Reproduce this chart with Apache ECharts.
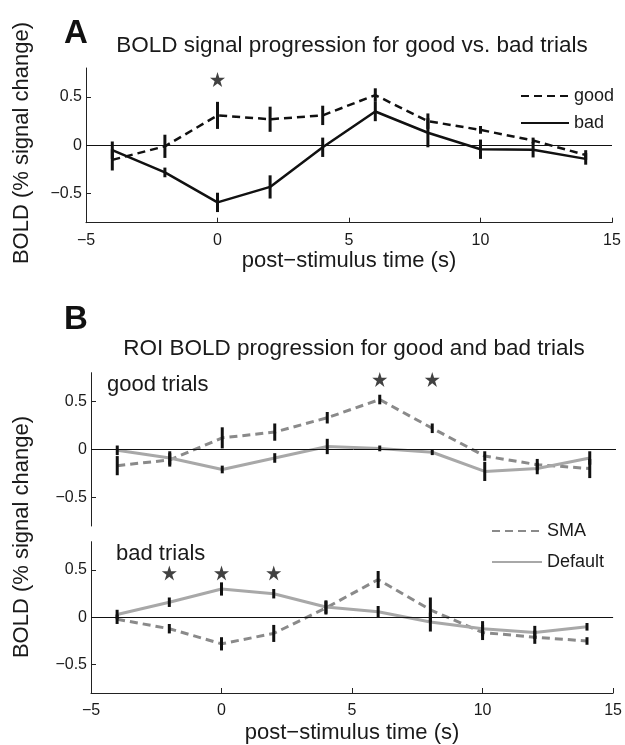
<!DOCTYPE html>
<html>
<head>
<meta charset="utf-8">
<script src="https://cdn.jsdelivr.net/npm/echarts@6/dist/echarts.min.js"></script>
<style>
  html, body { margin: 0; padding: 0; background: #fff; }
  #chart { width: 625px; height: 745px; }
</style>
</head>
<body>
<div id="chart"></div>
<script>
// time points (s)
const timePoints = [-4, -2, 0, 2, 4, 6, 8, 10, 12, 14];

// panel A
const goodA    = [-0.15, -0.01, 0.31, 0.27, 0.31, 0.52, 0.25, 0.16, 0.05, -0.10];
const goodAErr = [0.11, 0.12, 0.14, 0.13, 0.10, 0.07, 0.08, 0.04, 0.03, 0.05];
const badA     = [-0.05, -0.28, -0.59, -0.43, -0.02, 0.35, 0.13, -0.04, -0.045, -0.14];
const badAErr  = [0.09, 0.05, 0.10, 0.12, 0.10, 0.10, 0.15, 0.10, 0.08, 0.06];
const starsA   = [[0, 0.68]];

// panel B, good trials
const smaGood    = [-0.17, -0.11, 0.12, 0.18, 0.33, 0.52, 0.22, -0.07, -0.16, -0.20];
const smaGoodErr = [0.10, 0.07, 0.11, 0.09, 0.06, 0.05, 0.05, 0.05, 0.06, 0.10];
const defGood    = [-0.01, -0.09, -0.21, -0.09, 0.03, 0.01, -0.03, -0.23, -0.20, -0.09];
const defGoodErr = [0.05, 0.07, 0.04, 0.05, 0.08, 0.03, 0.03, 0.10, 0.06, 0.07];
const starsGood  = [[6, 0.73], [8, 0.73]];

// panel B, bad trials
const smaBad    = [-0.02, -0.12, -0.28, -0.17, 0.10, 0.40, 0.08, -0.16, -0.21, -0.25];
const smaBadErr = [0.05, 0.05, 0.07, 0.09, 0.07, 0.09, 0.13, 0.08, 0.07, 0.04];
const defBad    = [0.03, 0.16, 0.30, 0.25, 0.11, 0.06, -0.05, -0.12, -0.16, -0.10];
const defBadErr = [0.05, 0.05, 0.07, 0.05, 0.07, 0.06, 0.10, 0.08, 0.07, 0.04];
const starsBad  = [[-2, 0.47], [0, 0.47], [2, 0.47]];

const yTicks = [-0.5, 0, 0.5];

const FONT = "'Liberation Sans', Arial, sans-serif";
const INK = '#1a1a1a';
const SMA_GRAY = '#8a8a8a';
const DEF_GRAY = '#a8a8a8';
const STAR = 'path://M50,0 L61.8,35.4 L99,35.4 L69,57.3 L80.4,92.7 L50,70.8 L19.6,92.7 L31,57.3 L1,35.4 L38.2,35.4 Z';

const chart = echarts.init(document.getElementById('chart'));

function pairs(vals) {
  return timePoints.map((t, i) => [t, vals[i]]);
}

function xAxisCfg(idx, showIt, name) {
  return {
    type: 'value', gridIndex: idx, min: -5, max: 15, interval: 5,
    show: showIt,
    name: name || '', nameLocation: 'middle', nameGap: idx === 0 ? 26 : 29,
    nameTextStyle: { fontFamily: FONT, fontSize: 22, color: INK },
    axisLine: { show: true, onZero: false, lineStyle: { color: '#222', width: 1 } },
    axisTick: { show: true, inside: true, length: 5, lineStyle: { color: '#222' } },
    axisLabel: {
      fontFamily: FONT, fontSize: 16, color: INK, margin: 10,
      formatter: v => String(v).replace('-', '\u2212')
    },
    splitLine: { show: false }
  };
}

function yAxisCfg(idx) {
  return {
    type: 'value', gridIndex: idx, min: -0.8, max: 0.8,
    axisLine: { show: true, onZero: false, lineStyle: { color: '#222', width: 1 } },
    axisTick: { show: true, inside: true, length: 5, customValues: yTicks, lineStyle: { color: '#222' } },
    axisLabel: {
      fontFamily: FONT, fontSize: 16, color: INK, margin: 4, customValues: yTicks,
      formatter: v => String(v).replace('-', '\u2212')
    },
    splitLine: { show: false }
  };
}

function lineSeries(name, idx, vals, color, dashed, width, withZero) {
  const s = {
    name: name, type: 'line', xAxisIndex: idx, yAxisIndex: idx,
    data: pairs(vals), symbol: 'none', silent: true, z: 3,
    lineStyle: { color: color, width: width, type: dashed ? [8, 5] : 'solid' },
    itemStyle: { color: color, opacity: 0 }
  };
  if (withZero) {
    s.markLine = {
      silent: true, symbol: 'none', label: { show: false },
      lineStyle: { color: '#111', width: 1, type: 'solid', opacity: 1 },
      data: [{ yAxis: 0 }]
    };
  }
  return s;
}

function errSeries(idx, vals, errs) {
  return {
    type: 'custom', xAxisIndex: idx, yAxisIndex: idx, silent: true, z: 4,
    data: timePoints.map((t, i) => [t, vals[i] - errs[i], vals[i] + errs[i]]),
    encode: { x: 0, y: [1, 2] },
    renderItem: (params, api) => {
      const lo = api.coord([api.value(0), api.value(1)]);
      const hi = api.coord([api.value(0), api.value(2)]);
      return {
        type: 'line',
        shape: { x1: lo[0], y1: lo[1], x2: hi[0], y2: hi[1] },
        style: { stroke: '#111', lineWidth: 3 }
      };
    }
  };
}

function starSeries(idx, pts) {
  return {
    type: 'scatter', xAxisIndex: idx, yAxisIndex: idx, silent: true, z: 5,
    data: pts, symbol: STAR, symbolSize: 15,
    itemStyle: { color: '#111' }
  };
}

const legendBase = {
  orient: 'vertical', itemHeight: 14, selectedMode: false,
  itemStyle: { opacity: 0 },
  textStyle: { fontFamily: FONT, fontSize: 18, color: INK }
};

const option = {
  backgroundColor: '#fff',
  animation: false,
  grid: [
    { left: 86, right: 13, top: 68, height: 154.7 },
    { left: 91, right: 9, top: 372.7, height: 153.3 },
    { left: 91, right: 9, top: 541.7, height: 153.3 }
  ],
  xAxis: [
    xAxisCfg(0, true, 'post\u2212stimulus time (s)'),
    xAxisCfg(1, false),
    xAxisCfg(2, true, 'post\u2212stimulus time (s)')
  ],
  yAxis: [yAxisCfg(0), yAxisCfg(1), yAxisCfg(2)],
  legend: [
    Object.assign({}, legendBase, {
      data: ['good', 'bad'], left: 515, top: 82, itemWidth: 48, itemGap: 9
    }),
    Object.assign({}, legendBase, {
      data: ['SMA', 'Default'], left: 486, top: 517, itemWidth: 50, itemGap: 13
    })
  ],
  graphic: [
    { type: 'text', left: 64, top: 17, style: { text: 'A', font: "bold 33px " + FONT, fill: '#111' } },
    { type: 'text', x: 352, y: 46, style: { text: 'BOLD signal progression for good vs. bad trials', font: "22.5px " + FONT, fill: INK, textAlign: 'center', textVerticalAlign: 'middle' } },
    { type: 'text', x: 22, y: 143, rotation: Math.PI / 2, style: { text: 'BOLD (% signal change)', font: "22px " + FONT, fill: INK, textAlign: 'center', textVerticalAlign: 'middle' } },
    { type: 'text', left: 64, top: 303, style: { text: 'B', font: "bold 33px " + FONT, fill: '#111' } },
    { type: 'text', x: 354, y: 349, style: { text: 'ROI BOLD progression for good and bad trials', font: "22.5px " + FONT, fill: INK, textAlign: 'center', textVerticalAlign: 'middle' } },
    { type: 'text', x: 22, y: 537, rotation: Math.PI / 2, style: { text: 'BOLD (% signal change)', font: "22px " + FONT, fill: INK, textAlign: 'center', textVerticalAlign: 'middle' } },
    { type: 'text', x: 107, y: 385, style: { text: 'good trials', font: "22px " + FONT, fill: INK, textVerticalAlign: 'middle' } },
    { type: 'text', x: 116, y: 554, style: { text: 'bad trials', font: "22px " + FONT, fill: INK, textVerticalAlign: 'middle' } }
  ],
  series: [
    lineSeries('good', 0, goodA, '#111', true, 2.5, true),
    lineSeries('bad', 0, badA, '#111', false, 2.5, false),
    errSeries(0, goodA, goodAErr),
    errSeries(0, badA, badAErr),
    starSeries(0, starsA),

    lineSeries('SMA', 1, smaGood, SMA_GRAY, true, 3, true),
    lineSeries('Default', 1, defGood, DEF_GRAY, false, 3, false),
    errSeries(1, smaGood, smaGoodErr),
    errSeries(1, defGood, defGoodErr),
    starSeries(1, starsGood),

    lineSeries('SMA', 2, smaBad, SMA_GRAY, true, 3, true),
    lineSeries('Default', 2, defBad, DEF_GRAY, false, 3, false),
    errSeries(2, smaBad, smaBadErr),
    errSeries(2, defBad, defBadErr),
    starSeries(2, starsBad)
  ]
};

chart.setOption(option);
</script>
</body>
</html>
